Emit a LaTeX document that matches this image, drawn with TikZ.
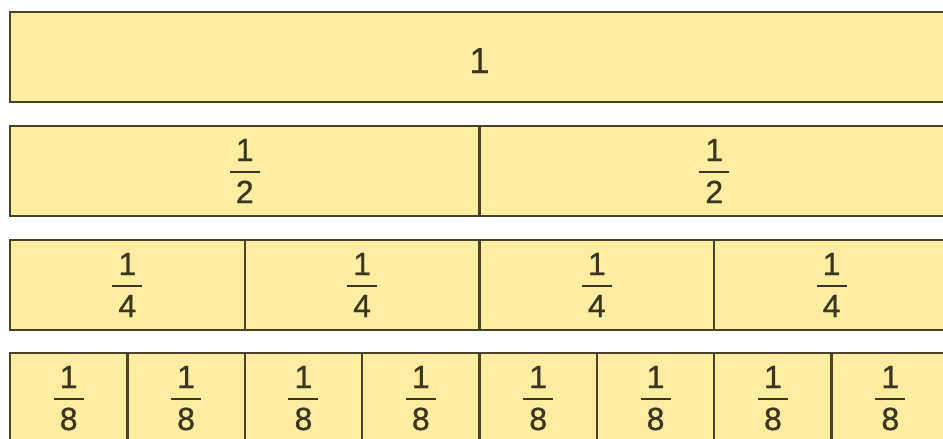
\documentclass[tikz,border=0pt]{standalone}
\usepackage{fontspec}
\setmainfont{Liberation Sans}
\newfontfamily\digitfont{Liberation Sans}[FakeBold=0.8]
\definecolor{paper}{RGB}{252,237,160}
\definecolor{edge}{RGB}{72,66,42}
\definecolor{ink}{RGB}{58,54,34}
\begin{document}
\begin{tikzpicture}[x=1pt,y=-1pt,
  cell/.style={draw=edge, fill=paper, line width=2.4pt, minimum height=90pt, inner sep=0pt, outer sep=0pt},
  digit/.style={anchor=base, inner sep=0pt, outer sep=0pt, text=ink, font=\digitfont\fontsize{32}{32}\selectfont},
  bigdigit/.style={digit, font=\digitfont\fontsize{36}{36}\selectfont},
  fracbar/.style={draw=ink, line width=2.2pt}]
\useasboundingbox (0,0) rectangle (943,439);
\clip (0,0) rectangle (943,439);
\node[cell, minimum width=939pt] (one) at (479.5,57) {};
\node[bigdigit] (onetxt) at ([yshift=-16pt]one.center) {1};
\foreach \n/\top in {2/126,4/240,8/353}{
  \pgfmathsetmacro{\w}{939/\n}
  \pgfmathtruncatemacro{\last}{\n-1}
  \foreach \k in {0,...,\last}{
    \pgfmathsetmacro{\cx}{10+\w*(\k+0.5)}
    \node[cell, minimum width=\w pt] (c\n-\k) at (\cx,\top+45) {};
    \node[digit] (t\n-\k) at ([yshift=10pt]c\n-\k.center) {1};
    \node[digit] (b\n-\k) at ([yshift=-32pt]c\n-\k.center) {\n};
    \draw[fracbar] ([xshift=-15pt,yshift=-1pt]c\n-\k.center) -- ([xshift=15pt,yshift=-1pt]c\n-\k.center);
  }
}
\end{tikzpicture}
\end{document}
